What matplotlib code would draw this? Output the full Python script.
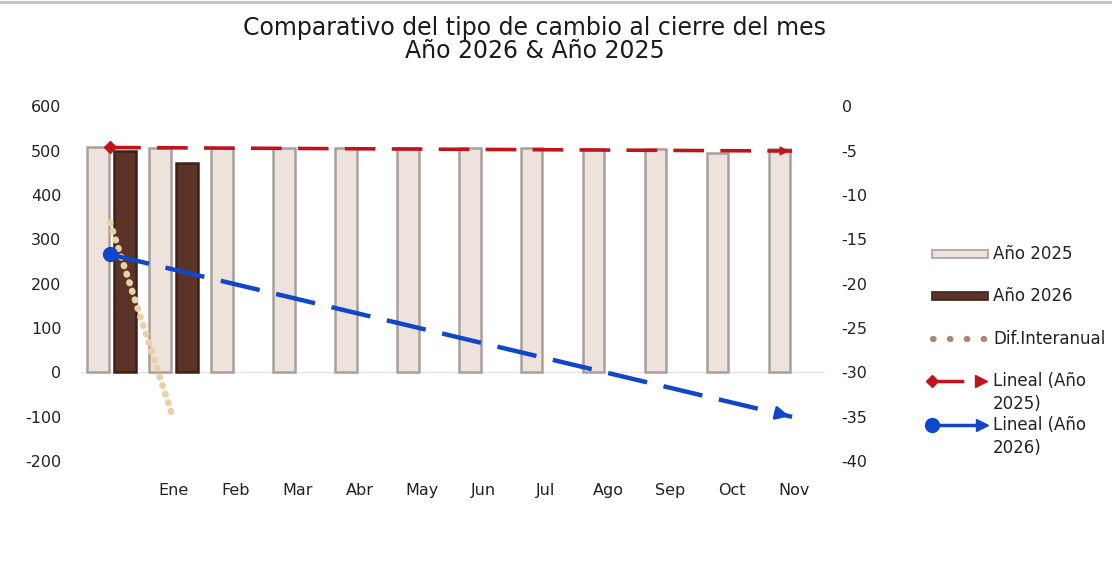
import matplotlib.pyplot as plt
from matplotlib.lines import Line2D
from matplotlib.patches import Rectangle

plt.rcParams["axes.unicode_minus"] = False

# data
months = ["", "Ene", "Feb", "Mar", "Abr", "May", "Jun", "Jul", "Ago", "Sep", "Oct", "Nov"]
anio_2025 = [508, 505, 505, 505, 505, 505, 505, 505, 503, 503, 495, 503]
anio_2026 = [500, 473]
dif_interanual = [-13.1, -34.8]       # right axis
lineal_2025 = [507, 499]              # trend endpoints, left axis (first and last month)
lineal_2026 = [-16.7, -35.0]          # trend endpoints, right axis

C25_FACE = "#eee3dc"
C25_EDGE = "#a8a09a"
C26_FACE = "#5b3427"
C26_EDGE = "#3b2219"
C_DIF = "#e9d0a8"
C_RED = "#c0141c"
C_BLUE = "#1046c8"

fig = plt.figure(figsize=(11.12, 5.68), dpi=100)
ax = fig.add_axes([0.0728, 0.188, 0.669, 0.625])
ax2 = ax.twinx()

x = list(range(len(months)))
w = 0.35
ax.bar([i - 0.23 for i in x], anio_2025, width=w, color=C25_FACE,
       edgecolor=C25_EDGE, linewidth=1.8, zorder=2)
ax.bar([i + 0.21 for i in range(len(anio_2026))], anio_2026, width=w,
       color=C26_FACE, edgecolor=C26_EDGE, linewidth=1.8, zorder=3)
ax.axhline(0, color="#e4e4e4", lw=0.8, zorder=1)

ax.set_xlim(-0.5, 11.5)
ax.set_ylim(-200, 600)
ax.set_yticks(range(-200, 601, 100))
ax2.set_ylim(-40, 0)
ax2.set_yticks(range(-40, 1, 5))
ax.set_xticks(x)
ax.set_xticklabels(months)

for a in (ax, ax2):
    for s in a.spines.values():
        s.set_visible(False)
    a.tick_params(length=0, labelsize=11.5, colors="#222222")
ax.tick_params(axis="y", pad=14)
ax2.tick_params(axis="y", pad=12)
ax.tick_params(axis="x", pad=16)

# red trend (Año 2025)
xe = [-0.03, 10.97]
ax.plot(xe, lineal_2025, color=C_RED, lw=2.6, dashes=(8.5, 4.5), zorder=5)
ax.plot(xe[0], lineal_2025[0], marker="D", ms=6, color=C_RED, zorder=6)
ax.annotate("", xy=(xe[1], lineal_2025[1]),
            xytext=(xe[1] - 0.15, lineal_2025[1] + (lineal_2025[0] - lineal_2025[1]) * 0.15 / 11),
            arrowprops=dict(arrowstyle="-|>,head_length=0.7,head_width=0.35",
                            color=C_RED, lw=0), zorder=6)

# dif interanual dotted
ax2.plot([-0.03, 0.97], dif_interanual, color=C_DIF, lw=4.8, linestyle=(0, (0.1, 1.25)),
         dash_capstyle="round", zorder=6)

# blue trend (Año 2026)
ax2.plot(xe, lineal_2026, color=C_BLUE, lw=3.2, dashes=(9, 3.8), zorder=7)
ax2.plot(xe[0], lineal_2026[0], marker="o", ms=10, color=C_BLUE, zorder=8)
slope = (lineal_2026[1] - lineal_2026[0]) / 11
ax2.annotate("", xy=(xe[1], lineal_2026[1]),
             xytext=(xe[1] - 0.25, lineal_2026[1] - slope * 0.25),
             arrowprops=dict(arrowstyle="-|>,head_length=0.8,head_width=0.4",
                             color=C_BLUE, lw=2), zorder=8)

# title
fig.text(0.481, 0.950, "Comparativo del tipo de cambio al cierre del mes",
         ha="center", va="center", fontsize=17, color="#1a1a1a")
fig.text(0.481, 0.910, "Año 2026 & Año 2025",
         ha="center", va="center", fontsize=17, color="#1a1a1a")

# thin top border
fig.add_artist(Line2D([0, 1], [0.996, 0.996], color="#c9c2b3", lw=2))

# legend drawn by hand
W, H = 1112, 568
def fx(px):
    return px / W
def fy(py):
    return 1 - py / H

fig.add_artist(Rectangle((fx(932), fy(258)), fx(56), 8 / H, facecolor=C25_FACE,
                         edgecolor=C25_EDGE, lw=1.2))
fig.text(fx(993), fy(254), "Año 2025", fontsize=12, va="center", color="#222222")
fig.add_artist(Rectangle((fx(932), fy(300)), fx(56), 8 / H, facecolor=C26_FACE,
                         edgecolor=C26_EDGE, lw=1.2))
fig.text(fx(993), fy(296), "Año 2026", fontsize=12, va="center", color="#222222")
fig.add_artist(Line2D([fx(933), fx(986)], [fy(339), fy(339)], color="#a58a78", lw=4.5,
                      linestyle=(0, (0.1, 2.6)), dash_capstyle="round"))
fig.text(fx(993), fy(339), "Dif.Interanual", fontsize=12, va="center", color="#222222")

fig.add_artist(Line2D([fx(932), fx(962)], [fy(381), fy(381)], color=C_RED, lw=2.5))
fig.add_artist(Line2D([fx(932)], [fy(381)], color=C_RED, marker="D", ms=6))
fig.add_artist(Line2D([fx(981)], [fy(381)], color=C_RED, marker=">", ms=9))
fig.text(fx(993), fy(372), "Lineal (Año\n2025)", fontsize=12, va="top",
         color="#222222", linespacing=1.35)

fig.add_artist(Line2D([fx(932), fx(975)], [fy(425), fy(425)], color=C_BLUE, lw=2.5))
fig.add_artist(Line2D([fx(932)], [fy(425)], color=C_BLUE, marker="o", ms=10))
fig.add_artist(Line2D([fx(982)], [fy(425)], color=C_BLUE, marker=">", ms=8))
fig.text(fx(993), fy(416), "Lineal (Año\n2026)", fontsize=12, va="top",
         color="#222222", linespacing=1.35)

fig.savefig("out.png", dpi=100, facecolor="white")
